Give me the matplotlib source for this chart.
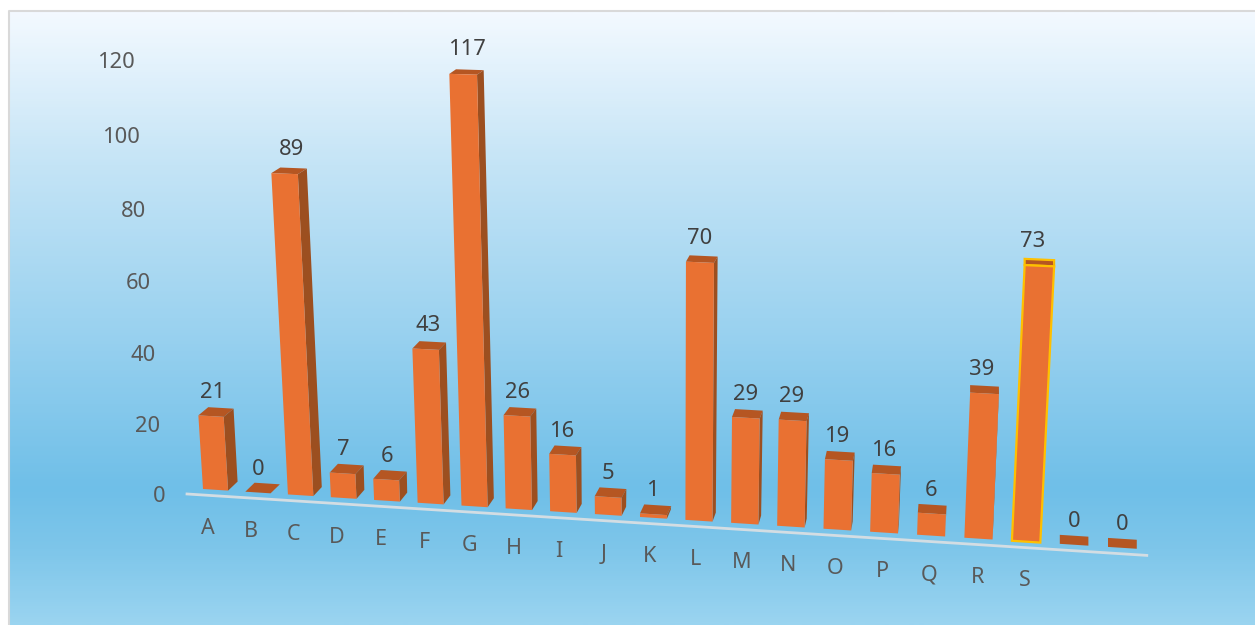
import numpy as np
import matplotlib
matplotlib.use('Agg')
import matplotlib.pyplot as plt
from matplotlib.colors import LinearSegmentedColormap
from matplotlib.patches import Polygon

categories = ['A', 'B', 'C', 'D', 'E', 'F', 'G', 'H', 'I', 'J', 'K', 'L', 'M', 'N', 'O', 'P', 'Q', 'R', 'S', '', '']
values = [21, 0, 89, 7, 6, 43, 117, 26, 16, 5, 1, 70, 29, 29, 19, 16, 6, 39, 73, 0, 0]
yticks = [0, 20, 40, 60, 80, 100, 120]
highlight = 'S'

plt.rcParams['font.family'] = ['Noto Sans', 'DejaVu Sans']


# fake perspective of the tilted 3d chart: category index + value -> pixel
def base_x(i):
    return 203 + 42.15 * i + 0.155 * i ** 2

def base_y(x):
    return 489 + 0.064 * (x - 203)

def rise(x, v):
    return v * (3.48 + 0.00025 * (x - 203)) * (1 + 0.00035 * v)

def lean(x):
    return 0.000135 * (x - 670)

def project(x, v):
    h = rise(x, v)
    return x + lean(x) * h, base_y(x) - h

def depth(x, v):
    return max(0, 0.0128 * (970 - x)), 9 - 0.038 * v


fig = plt.figure(figsize=(12.55, 6.25), dpi=100)
ax = fig.add_axes([0, 0, 1, 1])
ax.set_xlim(0, 1255)
ax.set_ylim(625, 0)
ax.axis('off')

# background gradient
grad = LinearSegmentedColormap.from_list('bg', [(0, '#f3f9ff'), (0.25, '#c4e4f6'), (0.5, '#9dd3f0'),
                                                 (0.78, '#6fbfe8'), (0.88, '#7ec6ea'), (1, '#9ad4f0')])
ax.imshow(np.linspace(0, 1, 300).reshape(-1, 1), cmap=grad, aspect='auto', extent=[9, 1255, 625, 11], zorder=0)
ax.plot([9, 9, 1255], [625, 11, 11], color='#d9d9d9', lw=1.5, zorder=1)
ax.set_xlim(0, 1255)
ax.set_ylim(625, 0)

# axis line
x0, x1 = base_x(-0.38), base_x(20.8)
ax.plot([x0, x1], [base_y(x0) + 6, base_y(x1) + 6], color='#d3dde3', lw=2, zorder=2)

for i, (cat, v) in enumerate(zip(categories, values)):
    xl = base_x(i)
    w = 0.595 * (42.15 + 0.31 * i)
    xr = xl + w
    tlx, tly = project(xl, v)
    trx, try_ = project(xr, v)
    dx, dy = depth(tlx, v)
    dxb, dyb = depth(xr, 0)
    z = 3 + i * 0.01
    edge = '#ffc000' if cat == highlight else 'none'
    lw = 1.6 if cat == highlight else 0

    ax.add_patch(Polygon([(tlx, tly), (trx, try_), (trx + dx, try_ - dy), (tlx + dx, tly - dy)],
                         fc='#b55622', ec=edge, lw=lw, zorder=z))
    if v > 0:
        ax.add_patch(Polygon([(xr, base_y(xr)), (trx, try_), (trx + dx, try_ - dy), (xr + dxb, base_y(xr) - dyb)],
                             fc='#9c4f20', ec='none', zorder=z))
        ax.add_patch(Polygon([(xl, base_y(xl)), (xr, base_y(xr)), (trx, try_), (tlx, tly)],
                             fc='#e97132', ec=edge, lw=lw, zorder=z + 0.001))

    # labels lean about half as much as the bars do
    lab_x = xl + w / 2 + 0.55 * (tlx - xl)
    ax.text(lab_x, tly - dy - 13.5 - 0.05 * v, str(v), ha='center', va='center',
            fontsize=15.8, color='#404040', zorder=6)
    if cat:
        lx = xl + w / 2 - 1 - 6.5 * (1 - i / 18)
        ax.text(lx, base_y(xl) + 40, cat, ha='center', va='center', fontsize=15.5, color='#595959', zorder=6)

for t in yticks:
    tx = base_x(-0.9)
    px, py = project(tx, t)
    ax.text(px, py + 10, str(t), ha='right', va='center', fontsize=15.8, color='#595959', zorder=6)

fig.savefig('out.png', dpi=100)
